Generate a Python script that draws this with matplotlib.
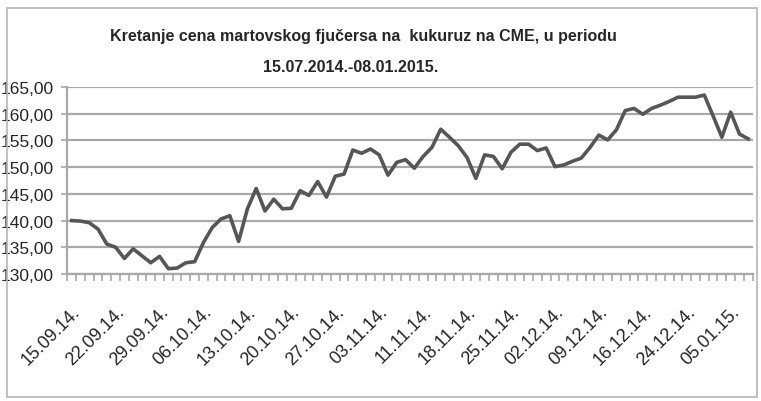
import numpy as np
import matplotlib.pyplot as plt
from matplotlib.patches import Rectangle
from matplotlib.ticker import FixedLocator

# March corn futures on CME, daily close
prices = [
    140.0, 139.9, 139.6, 138.4, 135.6, 135.0, 132.9, 134.7, 133.4, 132.1,
    133.3, 131.0, 131.1, 132.1, 132.3, 135.9, 138.7, 140.3, 140.9, 136.1,
    142.2, 146.0, 141.8, 144.0, 142.2, 142.3, 145.6, 144.7, 147.3, 144.4,
    148.3, 148.7, 153.2, 152.6, 153.4, 152.3, 148.5, 150.9, 151.4, 149.8,
    152.0, 153.7, 157.1, 155.6, 154.0, 151.8, 147.9, 152.3, 152.0, 149.7,
    152.8, 154.3, 154.3, 153.1, 153.6, 150.1, 150.4, 151.1, 151.7, 153.7,
    156.0, 155.1, 157.0, 160.6, 161.0, 159.9, 161.0, 161.6, 162.3, 163.1,
    163.1, 163.1, 163.5, 159.6, 155.6, 160.3, 156.2, 155.3,
]
date_labels = [
    "15.09.14.", "22.09.14.", "29.09.14.", "06.10.14.", "13.10.14.",
    "20.10.14.", "27.10.14.", "03.11.14.", "11.11.14.", "18.11.14.",
    "25.11.14.", "02.12.14.", "09.12.14.", "16.12.14.", "24.12.14.",
    "05.01.15.",
]
y_ticks = [130, 135, 140, 145, 150, 155, 160, 165]
title_line1 = "Kretanje cena martovskog fjučersa na  kukuruz na CME, u periodu"
title_line2 = "15.07.2014.-08.01.2015."

plt.rcParams['font.family'] = ['Liberation Sans', 'DejaVu Sans']
text_color = '#262626'
grid_color = '#a8a8a8'

fig = plt.figure(figsize=(7.61, 4.02), dpi=100)
ax = fig.add_axes([0.0884, 0.316, 0.9006, 0.465])

x = np.arange(len(prices))
ax.plot(x, prices, color='#565656', lw=2.6, zorder=3)

ax.set_xlim(-0.5, len(prices) - 0.5)
ax.set_ylim(y_ticks[0], y_ticks[-1])
ax.set_yticks(y_ticks)
ax.set_yticklabels([f"{v:.2f}".replace('.', ',') for v in y_ticks],
                   fontsize=12.5, color=text_color)
ax.grid(axis='y', color=grid_color, lw=1.6)
ax.set_axisbelow(True)

label_pos = list(range(0, len(prices), 5))[:len(date_labels)]
ax.set_xticks(label_pos)
ax.set_xticklabels(date_labels, rotation=45, ha='right', va='top',
                   rotation_mode='anchor', fontsize=13, color=text_color)
ax.tick_params(axis='x', which='major', length=0, pad=21)
ax.xaxis.set_minor_locator(FixedLocator(np.arange(-0.5, len(prices), 1)))
ax.tick_params(axis='x', which='minor', length=5, width=1.2, color=grid_color)
ax.tick_params(axis='y', length=4, width=1.2, color=grid_color, pad=6)

for side in ['top', 'right']:
    ax.spines[side].set_visible(False)
for side in ['left', 'bottom']:
    ax.spines[side].set_color(grid_color)
    ax.spines[side].set_linewidth(1.6)

fig.text(363 / 761, 1 - 37 / 402, title_line1, ha='center', va='center',
         fontsize=11.5, fontweight='bold', color=text_color)
fig.text(351 / 761, 1 - 68 / 402, title_line2, ha='center', va='center',
         fontsize=11.5, fontweight='bold', color=text_color)

fig.patches.append(Rectangle((7 / 761, 1 - 398 / 402), 750 / 761, 389 / 402,
                             transform=fig.transFigure, fill=False,
                             edgecolor='#b5b5b5', lw=1.2))

fig.savefig('out.png', dpi=100)
